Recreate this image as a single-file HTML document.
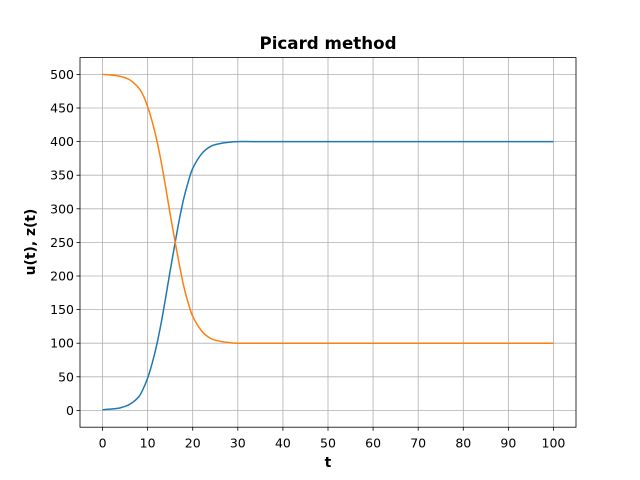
<!DOCTYPE html>
<html><head><meta charset="utf-8"><style>
body{margin:0;background:#fff;}
svg{display:block;font-family:"DejaVu Sans","Liberation Sans",sans-serif;}
</style></head><body>
<svg id="chart" width="640" height="480">
<rect width="640" height="480" fill="#fff"/>
<g id="grid"></g>
<g id="series"></g>
<rect x="80" y="57.6" width="496" height="369.6" fill="none" stroke="#000" stroke-width="0.8"/>
<g id="ticks"></g>
<text x="328" y="49" text-anchor="middle" font-size="16.7" font-weight="bold">Picard method</text>
<text x="328" y="467" text-anchor="middle" font-size="13.9" font-weight="bold">t</text>
<text x="35" y="242" text-anchor="middle" font-size="13.9" font-weight="bold" transform="rotate(-90 35 242)">u(t), z(t)</text>
</svg>
<script>
const tVals=[0,2,4,6,8,9,10,11,12,13,14,15,16,17,18,19,20,22,24,26,28,30,35,40,100];
const uVals=[1,2,4,9,20,32,48,70,97,130,168,208,246,283,315,340,360,382,393,397,399,400,400,400,400];
const zVals=[500,499,497,492,480,469,452,430,403,370,332,292,254,218,185,160,140,118,107,103,101,100,100,100,100];
const xTicks=[0,10,20,30,40,50,60,70,80,90,100];
const yTicks=[0,50,100,150,200,250,300,350,400,450,500];
const NS="http://www.w3.org/2000/svg";
const L=80,R=576,T=57.6,B=427.2;
const xs=v=>L+(v+5)/110*(R-L);
const ys=v=>B-(v+25)/550*(B-T);
const grid=document.getElementById('grid'),ticks=document.getElementById('ticks'),ser=document.getElementById('series');
function mk(tag,attrs,parent){const e=document.createElementNS(NS,tag);for(const k in attrs)e.setAttribute(k,attrs[k]);parent.appendChild(e);return e;}
xTicks.forEach(v=>{const x=xs(v);
 const g=mk('line',{x1:x,x2:x,y1:T,y2:B,stroke:'#b0b0b0','stroke-width':0.8},grid);
 
 
 mk('line',{x1:x,x2:x,y1:B,y2:B+3.5,stroke:'#000','stroke-width':0.8},ticks);
 const t=mk('text',{x:x,y:B+20.5,'text-anchor':'middle','font-size':12.5},ticks);t.textContent=v;
 
 
});
yTicks.forEach(v=>{const y=ys(v);
 const g=mk('line',{x1:L,x2:R,y1:y,y2:y,stroke:'#b0b0b0','stroke-width':0.8},grid);
 
 
 mk('line',{x1:L-3.5,x2:L,y1:y,y2:y,stroke:'#000','stroke-width':0.8},ticks);
 const t=mk('text',{x:L-6,y:y+4.5,'text-anchor':'end','font-size':12.5},ticks);t.textContent=v;
 
 
});
function line(vals,color,name){
 const pts=tVals.map((t,i)=>[xs(t),ys(vals[i])]);
 let d='M'+pts[0][0]+','+pts[0][1];
 for(let i=0;i<pts.length-1;i++){
  const p0=pts[Math.max(i-1,0)],p1=pts[i],p2=pts[i+1],p3=pts[Math.min(i+2,pts.length-1)];
  const c1=[p1[0]+(p2[0]-p0[0])/6,p1[1]+(p2[1]-p0[1])/6],c2=[p2[0]-(p3[0]-p1[0])/6,p2[1]-(p3[1]-p1[1])/6];
  d+=` C${c1[0]},${c1[1]} ${c2[0]},${c2[1]} ${p2[0]},${p2[1]}`;
 }
 const p=mk('path',{d:d,fill:'none',stroke:color,'stroke-width':1.5},ser);
 
 
}
line(uVals,'#1f77b4','u-line');
line(zVals,'#ff7f0e','z-line');
</script>
</body></html>
